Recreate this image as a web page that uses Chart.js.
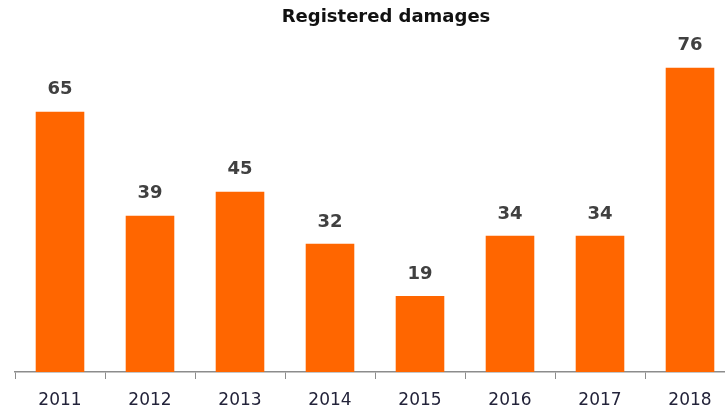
<!DOCTYPE html>
<html>
<head>
<meta charset="utf-8">
<script src="https://cdn.jsdelivr.net/npm/chart.js@4"></script>
<style>
  html, body { margin: 0; padding: 0; background: #fff; overflow: hidden; }
  #wrap { width: 760px; height: 414px; }
</style>
</head>
<body>
<div id="wrap"><canvas id="damagesChart"></canvas></div>
<script>
// data
const years = ['2011', '2012', '2013', '2014', '2015', '2016', '2017', '2018'];
const damages = [65, 39, 45, 32, 19, 34, 34, 76];

// draws the value above every bar
const valueLabels = {
    id: 'valueLabels',
    afterDatasetsDraw(chart) {
        const ctx = chart.ctx;
        const meta = chart.getDatasetMeta(0);
        ctx.save();
        ctx.font = 'bold 18px "DejaVu Sans"';
        ctx.fillStyle = '#404040';
        ctx.textAlign = 'center';
        ctx.textBaseline = 'middle';
        meta.data.forEach((bar, i) => {
            ctx.fillText(damages[i], bar.x, bar.y - 22);
        });
        ctx.restore();
    }
};

const ctx = document.getElementById('damagesChart').getContext('2d');
window.damagesChartInstance = new Chart(ctx, {
    type: 'bar',
    data: {
        labels: years,
        datasets: [{
            label: 'Registered damages',
            data: damages,
            backgroundColor: '#FF6600',
            borderWidth: 0,
            categoryPercentage: 1,
            barPercentage: 0.54
        }]
    },
    options: {
        responsive: true,
        maintainAspectRatio: false,
        animation: false,
        layout: { padding: { left: 15, right: 3, top: 0, bottom: 4 } },
        plugins: {
            legend: { display: false },
            tooltip: { enabled: false },
            title: {
                display: true,
                text: 'Registered damages',
                color: '#111',
                font: { family: 'DejaVu Sans', size: 18, weight: 'bold' },
                padding: { top: 7, bottom: 7 }
            }
        },
        scales: {
            x: {
                grid: {
                    offset: true,
                    drawOnChartArea: false,
                    drawTicks: true,
                    tickLength: 7,
                    color: '#8c8c8c'
                },
                border: { display: true, color: '#8c8c8c', width: 1.5 },
                ticks: {
                    color: '#23233a',
                    padding: 11,
                    font: { family: 'DejaVu Sans', size: 17 }
                },
                afterFit(scale) { scale.height = 38; }
            },
            y: {
                // invisible axis on the right, keeps the title centred like the original
                position: 'right',
                min: 0,
                max: 84,
                grid: { display: false },
                border: { display: false },
                ticks: { display: false },
                afterFit(scale) { scale.width = 22; }
            }
        }
    },
    plugins: [valueLabels]
});
</script>
</body>
</html>
